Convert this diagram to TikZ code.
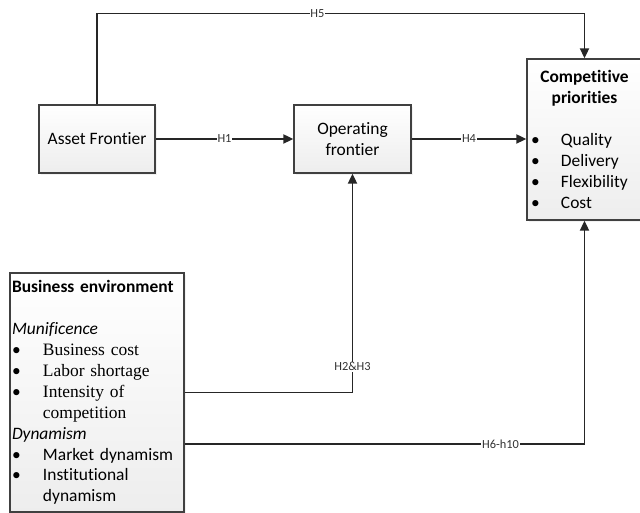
\documentclass[tikz,border=0pt]{standalone}
\usepackage{fontspec}
\setmainfont{Carlito}[Ligatures=NoCommon]
\newfontfamily\timesfont{Liberation Serif}
\usetikzlibrary{arrows.meta,shadows}

\newcommand{\bitem}[2][0.775cm]{\makebox[#1][l]{\textbullet}#2}

\begin{document}
\begin{tikzpicture}[
  box/.style={draw=black!75, line width=1.1pt, top color=white, bottom color=black!7,
    drop shadow={shadow xshift=1.2pt, shadow yshift=-1.2pt, opacity=0.1},
    font=\fontsize{12.4pt}{14.9pt}\selectfont, inner sep=0pt},
  link/.style={draw=black!85, line width=1pt, -{Triangle[length=7pt,width=6.5pt]}},
  lbl/.style={fill=white, inner sep=0.6pt, font=\fontsize{8.8pt}{10pt}\selectfont, text=black!80}]
\useasboundingbox (0,0) rectangle (16,12.825);
\begin{scope}
\clip (0,0) rectangle (16,12.825);
\node[box, minimum width=2.9cm, minimum height=1.7cm] (AF) at (2.425,9.35) {Asset Frontier};
\node[box, minimum width=2.925cm, minimum height=1.7cm, align=center] (OF) at (8.8125,9.35) {Operating\\frontier};
\node[box, text width=2.675cm, inner xsep=0.1cm, minimum height=4.025cm, align=left] (CP) at (14.6125,9.3375)
  {\makebox[\linewidth]{\textbf{Competitive}}\\
   \makebox[\linewidth]{\textbf{priorities}}\\
   \mbox{}\\
   \bitem[0.75cm]{Quality}\\
   \bitem[0.75cm]{Delivery}\\
   \bitem[0.75cm]{Flexibility}\\
   \bitem[0.75cm]{Cost}};
\node[box, text width=4.25cm, inner xsep=0.05cm, minimum height=5.975cm, align=left] (BE) at (2.425,3.0125)
  {\textbf{Business environment}\\
   \mbox{}\\
   \textit{Munificence}\\
   \bitem{{\timesfont Business cost}}\\
   \bitem{{\timesfont Labor shortage}}\\
   \bitem{{\timesfont Intensity of}}\\
   \hspace*{0.775cm}{\timesfont competition}\\
   \textit{Dynamism}\\
   \bitem{Market dynamism}\\
   \bitem{Institutional}\\
   \hspace*{0.775cm}dynamism};
\end{scope}
\draw[link] (AF) -- node[lbl] (h1) {H1} (OF);
\draw[link] (OF.east) -- node[lbl] (h4) {H4} (OF.east -| CP.west);
\draw[link] (AF.north) -- ++(0,2.275) -| node[lbl, pos=0.226] (h5) {H5} (CP.north);
\draw[link] (BE.east) -| node[lbl, pos=0.559] (h23) {H2\&H3} (OF.south);
\draw[link] ([yshift=-1.2875cm]BE.east) -| node[lbl, pos=0.395] (h6) {H6-h10} (CP.south);
\end{tikzpicture}
\end{document}
